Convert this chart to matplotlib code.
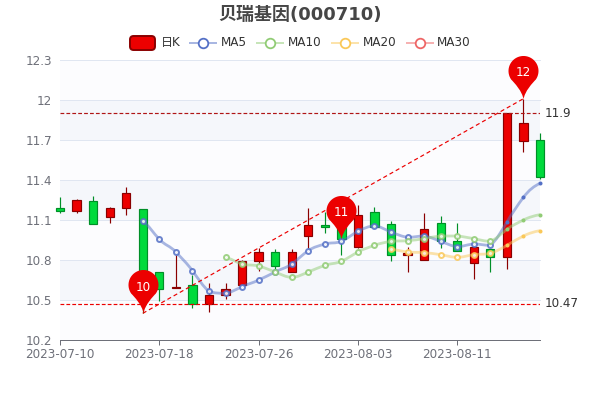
import numpy as np
import matplotlib
matplotlib.use("Agg")
import matplotlib.pyplot as plt
from matplotlib.lines import Line2D
from matplotlib.patches import FancyBboxPatch, PathPatch
from matplotlib.path import Path

plt.rcParams["font.family"] = ["DejaVu Sans", "Noto Sans CJK SC"]

dates = ["2023-07-10", "2023-07-18", "2023-07-26", "2023-08-03", "2023-08-11"]
date_idx = [0, 6, 12, 18, 24]
yticks = [10.2, 10.5, 10.8, 11.1, 11.4, 11.7, 12.0, 12.3]
ylabels = ["10.2", "10.5", "10.8", "11.1", "11.4", "11.7", "12", "12.3"]

opens = [11.19, 11.17, 11.24, 11.12, 11.19, 11.18, 10.71, 10.59, 10.61, 10.47,
         10.54, 10.61, 10.79, 10.86, 10.71, 10.98, 11.06, 11.06, 10.90, 11.16,
         11.07, 10.84, 10.80, 11.08, 10.94, 10.78, 10.88, 10.82, 11.69, 11.70]
closes = [11.17, 11.25, 11.07, 11.19, 11.30, 10.64, 10.58, 10.60, 10.47, 10.54,
          10.58, 10.79, 10.86, 10.755, 10.86, 11.06, 11.05, 10.96, 11.14, 11.05,
          10.84, 10.85, 11.03, 10.94, 10.87, 10.90, 10.82, 11.90, 11.83, 11.42]
highs = [11.27, 11.26, 11.28, 11.20, 11.35, 11.18, 10.71, 10.84, 10.69, 10.63,
         10.63, 10.80, 10.89, 10.88, 10.88, 11.19, 11.16, 11.10, 11.21, 11.20,
         11.09, 10.90, 11.15, 11.13, 11.08, 10.90, 10.88, 11.90, 12.01, 11.75]
lows = [11.15, 11.15, 11.07, 11.08, 11.14, 10.40, 10.49, 10.59, 10.44, 10.41,
        10.51, 10.61, 10.72, 10.73, 10.71, 10.89, 11.00, 10.84, 10.89, 11.05,
        10.79, 10.71, 10.80, 10.89, 10.87, 10.66, 10.71, 10.73, 11.61, 11.41]

ma5_x = list(range(5, 30))
ma5 = [11.09, 10.955, 10.86, 10.72, 10.565, 10.55, 10.60, 10.65, 10.71, 10.77,
       10.87, 10.92, 10.94, 11.015, 11.055, 11.01, 10.97, 10.98, 10.94, 10.90,
       10.92, 10.91, 11.085, 11.27, 11.375]
ma10_x = list(range(10, 30))
ma10 = [10.82, 10.77, 10.755, 10.71, 10.67, 10.71, 10.76, 10.79, 10.86, 10.91,
        10.94, 10.945, 10.96, 10.98, 10.98, 10.96, 10.94, 11.03, 11.10, 11.14]
ma20_x = list(range(20, 30))
ma20 = [10.88, 10.86, 10.855, 10.84, 10.82, 10.84, 10.85, 10.91, 10.98, 11.02]

low_idx, low_val = 5, 10.40
high_idx, high_val = 28, 12.01
level_hi, level_lo = 11.9, 10.47
pin_idx = [5, 17, 28]
pin_val = [10.40, 10.96, 12.01]
pin_text = ["10", "11", "12"]

UP, UP_EDGE = "#ec0000", "#8a0000"
DOWN, DOWN_EDGE = "#00da3c", "#008f28"
MA_COLORS = ["#5470c6", "#91cc75", "#fac858", "#ee6666"]
GREY = "#6e7079"


def smooth_path(xs, ys, s=0.2):
    # catmull-rom style bezier, control points kept inside each segment
    verts = [(xs[0], ys[0])]
    codes = [Path.MOVETO]
    n = len(xs)
    for i in range(n - 1):
        y0, y1 = ys[i], ys[i + 1]
        d0 = ys[i + 1] - ys[max(i - 1, 0)]
        d1 = ys[min(i + 2, n - 1)] - ys[i]
        lo, hi = min(y0, y1), max(y0, y1)
        verts.append((xs[i] + 0.35, np.clip(y0 + d0 * s, lo, hi)))
        verts.append((xs[i + 1] - 0.35, np.clip(y1 - d1 * s, lo, hi)))
        verts.append((xs[i + 1], y1))
        codes += [Path.CURVE4] * 3
    return Path(verts, codes)


def pin_marker():
    # tip at the origin, round head on top
    r, cy = 15.0, 28.5
    t = np.radians(np.linspace(-35, 215, 40))
    hx, hy = r * np.cos(t), cy + r * np.sin(t)
    verts = [(0, 0), (1.0, 8.0), (hx[0] - 3, hy[0] - 3), (hx[0], hy[0])]
    codes = [Path.MOVETO, Path.CURVE4, Path.CURVE4, Path.CURVE4]
    verts += list(zip(hx[1:], hy[1:]))
    codes += [Path.LINETO] * (len(t) - 1)
    verts += [(hx[-1] + 3, hy[-1] - 3), (-1.0, 8.0), (0, 0)]
    codes += [Path.CURVE4] * 3
    return Path(verts, codes), 2 * (cy + r)


fig = plt.figure(figsize=(6, 4), dpi=100)
ax = fig.add_axes([60 / 600, 1 - 340 / 400, 480 / 600, 280 / 400])
ax.set_xlim(0, 29)
ax.set_ylim(10.2, 12.3)

for i in range(len(yticks) - 1):
    ax.axhspan(yticks[i], yticks[i + 1], color="#fcfcfe" if i % 2 == 0 else "#f5f7fb", lw=0, zorder=0)
for v in yticks[1:]:
    ax.axhline(v, color="#e0e6f1", lw=0.72, zorder=1, clip_on=False)

for name in ["top", "left", "right"]:
    ax.spines[name].set_visible(False)
ax.spines["bottom"].set_color(GREY)
ax.spines["bottom"].set_linewidth(0.72)
ax.set_xticks(date_idx, dates)
ax.set_yticks(yticks, ylabels)
ax.tick_params(axis="x", length=3.6, width=0.72, color=GREY, labelsize=8.64, labelcolor=GREY, pad=1.9)
ax.tick_params(axis="y", length=0, labelsize=8.64, labelcolor=GREY, pad=5.5)

x = np.arange(len(opens))
o, c, h, l = map(np.array, (opens, closes, highs, lows))
up = c >= o
edge = np.where(up, UP_EDGE, DOWN_EDGE)
face = np.where(up, UP, DOWN)
ax.vlines(x, l, h, colors=edge, lw=0.85, zorder=3, clip_on=False)
ax.bar(x, np.abs(c - o), bottom=np.minimum(o, c), width=0.5, color=face,
       edgecolor=edge, lw=0.85, zorder=3, clip_on=False)

for xs, ys, col in [(ma5_x, ma5, MA_COLORS[0]), (ma10_x, ma10, MA_COLORS[1]), (ma20_x, ma20, MA_COLORS[2])]:
    ax.add_patch(PathPatch(smooth_path(xs, ys), fc="none", ec=col, lw=2.0, alpha=0.5, zorder=4))
    # the last three points are drawn as small solid dots in the reference
    ax.plot(xs[:-3], ys[:-3], ls="none", marker="o", ms=3.6, mfc="white", mec=col, mew=1.4, alpha=0.85, zorder=5)
    ax.plot(xs[-3:], ys[-3:], ls="none", marker="o", ms=2.9, mfc=col, mec="none", zorder=5, clip_on=False)

ax.plot([low_idx, high_idx], [low_val, high_val], color=UP, ls=(0, (3.5, 2.5)), lw=0.85, zorder=6)
ax.axhline(level_hi, color="#b01515", ls=(0, (3.2, 1.8)), lw=0.85, zorder=6)
ax.axhline(level_lo, color=UP, ls=(0, (3.2, 1.8)), lw=0.85, zorder=6)
ax.annotate("11.9", (29, level_hi), xytext=(3.6, 0), textcoords="offset points",
            va="center", fontsize=8.64, color="#333333", annotation_clip=False)
ax.annotate("10.47", (29, level_lo), xytext=(3.6, 0), textcoords="offset points",
            va="center", fontsize=8.64, color="#333333", annotation_clip=False)

pin, pin_size = pin_marker()
ms = pin_size * 72 / 100
ax.plot(pin_idx, pin_val, ls="none", marker=pin, ms=ms, mfc=UP, mec="none", zorder=7, clip_on=False)
for px, py, txt in zip(pin_idx, pin_val, pin_text):
    ax.annotate(txt, (px, py), xytext=(0, 18.8), textcoords="offset points", ha="center",
                va="center", color="white", fontsize=8.64, zorder=8, annotation_clip=False)

fig.text(0.5, 1 - 14.5 / 400, "贝瑞基因(000710)", ha="center", va="center",
         fontsize=12.96, fontweight="bold", color="#464646")

# legend, laid out by hand in figure pixels like the chart's own
ly = 1 - 42.7 / 400
fig.add_artist(FancyBboxPatch((130 / 600, 1 - 50 / 400), 25 / 600, 14 / 400,
                              boxstyle="round,pad=0,rounding_size=0.006", transform=fig.transFigure,
                              fc=UP, ec=UP_EDGE, lw=1.4, mutation_aspect=1.5))
fig.text(161 / 600, ly, "日K", va="center", fontsize=8.64, color="#333333")
legend_items = [("MA5", 190, 221), ("MA10", 257, 288), ("MA20", 332, 363), ("MA30", 407, 437)]
for (name, lx, tx), col in zip(legend_items, MA_COLORS):
    fig.add_artist(Line2D([lx / 600, (lx + 25.5) / 600], [ly, ly], color=col, lw=1.44, alpha=0.5, transform=fig.transFigure))
    fig.add_artist(Line2D([(lx + 12.8) / 600], [ly], ls="none", marker="o", ms=6.9, mfc="white", mec=col, mew=1.3,
                          transform=fig.transFigure))
    fig.text(tx / 600, ly, name, va="center", fontsize=8.64, color="#333333")

fig.savefig("out.png", dpi=100)
